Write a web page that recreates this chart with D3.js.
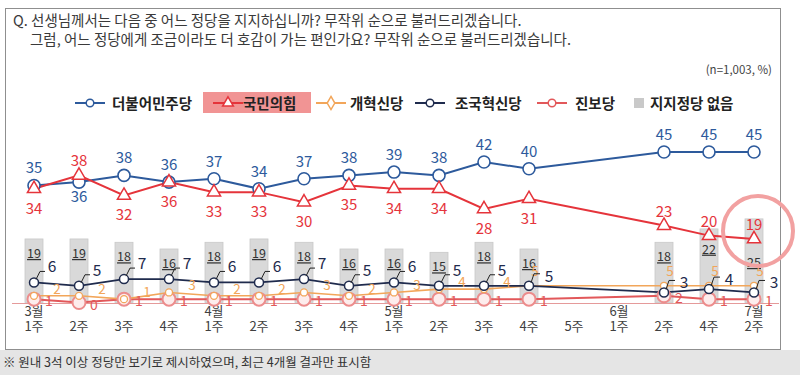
<!DOCTYPE html>
<html><head><meta charset="utf-8">
<script src="https://cdn.jsdelivr.net/npm/d3@7"></script>
<style>body{margin:0;background:#fff;} text{font-family:"Noto Sans CJK KR","Noto Sans",sans-serif;}</style>
</head><body><svg id="c" width="800" height="375"></svg>
<script>
const weeks = ["1주","2주","3주","4주","1주","2주","3주","4주","1주","2주","3주","4주","5주","1주","2주","4주","2주"];
const months = ["3월",null,null,null,"4월",null,null,null,"5월",null,null,null,null,"6월",null,null,"7월"];
const democratic = [35,36,38,36,37,34,37,38,39,38,42,40,null,null,45,45,45];
const ppp = [34,38,32,36,33,33,30,35,34,34,28,31,null,null,23,20,19];
const reform = [2,2,1,3,2,2,3,2,3,4,4,5,null,null,5,5,5];
const rebuilding = [6,5,7,7,6,6,7,5,6,5,5,5,null,null,3,4,3];
const progressive = [1,0,1,1,1,1,1,1,1,1,1,1,null,null,2,1,1];
const noParty = [19,19,18,16,18,19,18,16,16,15,18,16,null,null,18,22,25];
const legendNames = ["더불어민주당","국민의힘","개혁신당","조국혁신당","진보당","지지정당 없음"];
const titleLines = ["Q. 선생님께서는 다음 중 어느 정당을 지지하십니까? 무작위 순으로 불러드리겠습니다.",
                    "그럼, 어느 정당에게 조금이라도 더 호감이 가는 편인가요? 무작위 순으로 불러드리겠습니다."];
const sampleNote = "(n=1,003, %)";
const footNote = "※ 원내 3석 이상 정당만 보기로 제시하였으며, 최근 4개월 결과만 표시함";

const C = {blue:"#2d5a9c", red:"#e5343b", orange:"#f2a65a", navy:"#1f2b4d", pink:"#e2585a", pinkRing:"#ec8c8c", bar:"#d9d9d9"};
const svg = d3.select("#c");
const idx = d3.range(weeks.length);
const x = d3.scalePoint().domain(idx).range([34, 754]);
const y = d3.scaleLinear().domain([0, 45]).range([302.5, 152]);

// background & frame
svg.append("rect").attr("x",0).attr("y",0).attr("width",800).attr("height",375).attr("fill","#fff");
svg.append("rect").attr("x",0).attr("y",350).attr("width",800).attr("height",25).attr("fill","#e5e5e5");
svg.append("rect").attr("x",5.5).attr("y",8.5).attr("width",775).attr("height",341).attr("fill","#fff").attr("stroke","#8f8f8f");

// title
svg.append("text").attr("x",13).attr("y",26).attr("font-size",14.5).attr("fill","#3a3a3a").text(titleLines[0]);
svg.append("text").attr("x",30).attr("y",45).attr("font-size",14.5).attr("fill","#3a3a3a").text(titleLines[1]);
svg.append("text").attr("x",772).attr("y",74).attr("text-anchor","end").attr("font-size",11.5).attr("fill","#444").text(sampleNote);

// legend
const lg = svg.append("g");
lg.append("rect").attr("x",203).attr("y",92).attr("width",108).attr("height",21).attr("fill","#f19494");
const legendItems = [
  {x0:75, color:C.blue, shape:"circle", tx:112},
  {x0:213, color:C.red, shape:"triangle", tx:243},
  {x0:316, color:C.orange, shape:"diamond", tx:350},
  {x0:415, color:C.navy, shape:"circle", tx:455},
  {x0:537, color:C.pink, shape:"circle", tx:575},
  {x0:634, color:"#c8c8c8", shape:"square", tx:650}
];
legendItems.forEach((it,i)=>{
  const cy = 103;
  if (it.shape==="square") {
    lg.append("rect").attr("x",it.x0).attr("y",cy-5).attr("width",10).attr("height",10).attr("fill","#c9c9c9");
  } else {
    lg.append("line").attr("x1",it.x0).attr("x2",it.x0+30).attr("y1",cy).attr("y2",cy).attr("stroke",it.color).attr("stroke-width",2);
    const sym = it.shape==="triangle"?d3.symbolTriangle:(it.shape==="diamond"?d3.symbolDiamond:d3.symbolCircle);
    lg.append("path").attr("d",d3.symbol(sym, it.shape==="circle"?45:50)()).attr("transform",`translate(${it.x0+15},${cy})`)
      .attr("fill","#fff").attr("stroke",it.color).attr("stroke-width",1.5);
  }
  lg.append("text").attr("x",it.tx).attr("y",cy+5.5).attr("font-size",14.5).attr("font-weight","bold").attr("fill","#222").text(legendNames[i]);
});

// bars
const bars = svg.append("g");
idx.filter(i=>noParty[i]!=null).forEach(i=>{
  const top = y(noParty[i]);
  bars.append("rect").attr("x",x(i)-9).attr("y",top).attr("width",18).attr("height",y(0)-top)
    .attr("fill",C.bar).attr("stroke","#c9c9c9").attr("stroke-width",0.8);
  const ry = y(ppp[i]);
  const clash = (ry-21 < top+19) && (ry-9 > top+7);
  const by = clash ? ry+28 : Math.max(top+19, ry+18);
  bars.append("text").attr("x",x(i)).attr("y",by).attr("text-anchor","middle").attr("font-size",12.5)
    .attr("fill","#333").attr("text-decoration","underline").text(noParty[i]);
});

// axis line
svg.append("line").attr("x1",12).attr("x2",779).attr("y1",303.5).attr("y2",303.5).attr("stroke","#e59a9a").attr("stroke-width",1.2);

// x labels
const xl = svg.append("g").attr("font-size",13).attr("fill","#404040").attr("text-anchor","middle");
idx.forEach(i=>{
  if (months[i]) xl.append("text").attr("x",x(i)).attr("y",316).text(months[i]);
  xl.append("text").attr("x",x(i)).attr("y",331).text(weeks[i]);
});

function drawLine(data, color, width){
  const pts = idx.filter(i=>data[i]!=null);
  svg.append("path").datum(pts).attr("fill","none").attr("stroke",color).attr("stroke-width",width)
    .attr("d", d3.line().x(i=>x(i)).y(i=>y(data[i])));
  return pts;
}

// small parties
const progPts = drawLine(progressive, C.pink, 2);
const refPts = drawLine(reform, C.orange, 1.6);
const rebPts = drawLine(rebuilding, C.navy, 1.8);

progPts.forEach(i=>{
  svg.append("circle").attr("cx",x(i)).attr("cy",y(progressive[i])).attr("r",6.5).attr("fill","#fdecec").attr("stroke",C.pinkRing).attr("stroke-width",2);
  svg.append("text").attr("x",x(i)+15).attr("y",y(progressive[i])+7).attr("text-anchor","middle").attr("font-size",14).attr("fill",C.pink).text(progressive[i]);
});
refPts.forEach(i=>{
  svg.append("circle").attr("cx",x(i)).attr("cy",y(reform[i])).attr("r",3.5).attr("fill","#fff").attr("stroke",C.orange).attr("stroke-width",1.3);
  const above = reform[i] >= rebuilding[i];
  svg.append("text").attr("x",above?x(i)+6:x(i)+23).attr("y",above?y(reform[i])-10:y(reform[i])-2)
    .attr("text-anchor","middle").attr("font-size",13.5).attr("fill",C.orange).text(reform[i]);
});
rebPts.forEach(i=>{
  const px=x(i), py=y(rebuilding[i]);
  svg.append("circle").attr("cx",px).attr("cy",py).attr("r",4.5).attr("fill","#fff").attr("stroke",C.navy).attr("stroke-width",1.5);
  const right = reform[i] >= rebuilding[i];
  if (right) {
    svg.append("polyline").attr("points",`${px+2},${py-3} ${px+5},${py-12} ${px+11},${py-12}`).attr("fill","none").attr("stroke","#222").attr("stroke-width",1);
    svg.append("text").attr("x",px+20).attr("y",py-4).attr("text-anchor","middle").attr("font-size",15.5).attr("fill",C.navy).text(rebuilding[i]);
  } else {
    svg.append("polyline").attr("points",`${px+2},${py-3} ${px+6},${py-11} ${px+11},${py-11}`).attr("fill","none").attr("stroke","#222").attr("stroke-width",1);
    svg.append("text").attr("x",px+18).attr("y",py-10).attr("text-anchor","middle").attr("font-size",15.5).attr("fill",C.navy).text(rebuilding[i]);
  }
});

// big parties
const demPts = drawLine(democratic, C.blue, 2);
const pppPts = drawLine(ppp, C.red, 2);
demPts.forEach(i=>{
  svg.append("circle").attr("cx",x(i)).attr("cy",y(democratic[i])).attr("r",6).attr("fill","#fff").attr("stroke",C.blue).attr("stroke-width",1.6);
  const below = ppp[i]!=null && ppp[i] > democratic[i];
  svg.append("text").attr("x",x(i)).attr("y",below?y(democratic[i])+20:y(democratic[i])-12)
    .attr("text-anchor","middle").attr("font-size",15).attr("fill",C.blue).text(democratic[i]);
});
pppPts.forEach(i=>{
  svg.append("path").attr("d",d3.symbol(d3.symbolTriangle,75)()).attr("transform",`translate(${x(i)},${y(ppp[i])})`)
    .attr("fill","#fff").attr("stroke",C.red).attr("stroke-width",1.5);
  const barTop = noParty[i]!=null ? y(noParty[i]) : 999;
  const above = ppp[i] > democratic[i] || barTop < y(ppp[i]) + 30;
  svg.append("text").attr("x",x(i)).attr("y",above?y(ppp[i])-9:y(ppp[i])+25)
    .attr("text-anchor","middle").attr("font-size",15).attr("fill",C.red).text(ppp[i]);
});

// highlight circle
svg.append("circle").attr("cx",x(16)+4).attr("cy",y(ppp[16])-8).attr("r",35).attr("fill","none").attr("stroke","#f2a1a1").attr("stroke-width",4);

// footnote
svg.append("text").attr("x",3).attr("y",367).attr("font-size",12.5).attr("fill","#333").text(footNote);
</script></body></html>
